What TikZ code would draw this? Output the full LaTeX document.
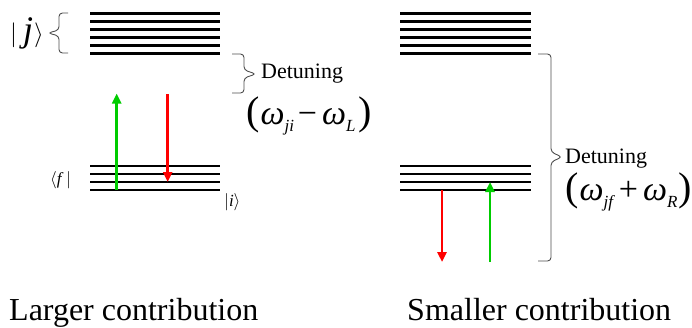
\documentclass[tikz,border=0pt]{standalone}
\usepackage{fontspec}
\setmainfont{Liberation Serif}[Ligatures=TeX]
\newfontfamily\tms{Liberation Serif}
\usetikzlibrary{arrows.meta}
\definecolor{lgreen}{RGB}{0,204,0}
\definecolor{lred}{RGB}{255,0,0}
\newcommand{\fs}[1]{\fontsize{#1}{#1}\selectfont}
\newcommand{\sub}[1]{\raisebox{-7pt}{\fs{17}\textit{#1}}}
\begin{document}
\begin{tikzpicture}[x=1pt,y=-1pt,
  level/.style={line width=2.7pt},
  trans/.style={line width=2.8pt,-{Triangle[length=10pt,width=9pt]}},
  bracepath/.style={draw=black!70,line width=0.9pt,rounded corners=3.5pt},
  lbl/.style={inner sep=0pt,anchor=base west,font=\tms}]
\useasboundingbox (0,0) rectangle (692,327);
% energy levels
\foreach \y in {13.3,21.3,29.3,37.3,45.3,53.3}{
  \draw[level] (90,\y) -- (220,\y);
  \draw[level] (400,\y) -- (531,\y);}
\foreach \y in {166,174,182,190}{
  \draw[level] (90,\y) -- (220,\y);
  \draw[level] (400,\y) -- (531,\y);}
% arrow end points
\coordinate (gLa) at (116.7,190);
\coordinate (gLb) at (116.7,93.5);
\coordinate (rLa) at (167.7,94);
\coordinate (rLb) at (167.7,182);
\coordinate (rRa) at (442,190);
\coordinate (rRb) at (442,262);
\coordinate (gRa) at (490,262);
\coordinate (gRb) at (490,182);
\draw[trans,lgreen] (gLa) -- (gLb);
\draw[trans,lred] (rLa) -- (rLb);
\draw[trans,lred] (rRa) -- (rRb);
\draw[trans,lgreen] (gRa) -- (gRb);
% braces
\draw[bracepath] (68,13) -- (59,13) -- (59,30) -- (48,33) -- (59,36) -- (59,53) -- (68,53);
\draw[bracepath] (232,54) -- (244,54) -- (244,70) -- (256,74) -- (244,78) -- (244,93) -- (232,93);
\draw[bracepath] (538,54) -- (551,54) -- (551,152) -- (562,157) -- (551,162) -- (551,261) -- (538,261);
% labels
\node[lbl] (jket) at (10,41) {\fs{36}$|$\,\textit{j}\kern1pt$\rangle$};
\node[lbl] (fbra) at (50,184) {\fs{17}$\langle$\textit{f}\,$|$};
\node[lbl] (iket) at (224,206) {\fs{17}$|$\textit{i}$\rangle$};
\node[lbl] (detL) at (261,78) {\fs{22}Detuning};
\node[lbl] (exL) at (246,124.5) {\fs{40}(\kern1pt\fs{34}\textit{ω}\sub{ji}\hspace{4pt}−\hspace{5pt}\textit{ω}\sub{L}\hspace{3pt}\fs{40})};
\node[lbl] (detR) at (565,163) {\fs{22}Detuning};
\node[lbl] (exR) at (565,200) {\fs{40}(\kern1pt\fs{34}\textit{ω}\sub{jf}\hspace{4pt}+\hspace{5pt}\textit{ω}\sub{R}\hspace{1pt}\fs{40})};
\node[lbl] (larger) at (9,320) {\fs{32}Larger contribution};
\node[lbl] (smaller) at (407,320) {\fs{32}Smaller contribution};
\end{tikzpicture}
\end{document}
